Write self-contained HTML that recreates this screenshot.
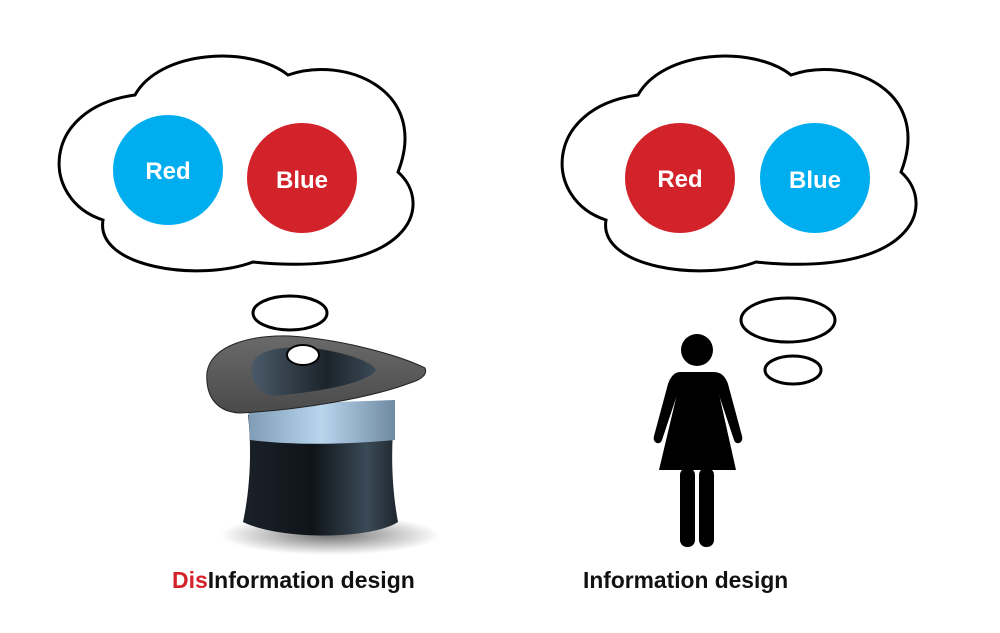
<!DOCTYPE html>
<html><head><meta charset="utf-8"><style>
html,body{margin:0;padding:0;background:#fff;}
svg{display:block}
text{font-family:"Liberation Sans",Arial,sans-serif;font-weight:bold}
</style></head><body>
<svg width="1000" height="633" viewBox="0 0 1000 633" xmlns="http://www.w3.org/2000/svg">
<defs>
<linearGradient id="crown" x1="0" x2="1" y1="0" y2="0">
<stop offset="0" stop-color="#1a2128"/><stop offset="0.45" stop-color="#0f1419"/><stop offset="0.8" stop-color="#3a4a57"/><stop offset="1" stop-color="#1e262d"/></linearGradient>
<linearGradient id="band" x1="0" x2="1"><stop offset="0" stop-color="#7f9cb6"/><stop offset="0.5" stop-color="#b9d6ef"/><stop offset="1" stop-color="#6f8aa2"/></linearGradient>
<linearGradient id="brim" x1="0" y1="0" x2="0" y2="1"><stop offset="0" stop-color="#6a6a6a"/><stop offset="1" stop-color="#4a4a4a"/></linearGradient>
<linearGradient id="inner" x1="0" x2="1"><stop offset="0" stop-color="#4a5a68"/><stop offset="0.6" stop-color="#1c242b"/><stop offset="1" stop-color="#3b4a57"/></linearGradient>
<radialGradient id="shadow" cx="0.5" cy="0.5" r="0.5"><stop offset="0" stop-color="#000" stop-opacity="0.55"/><stop offset="1" stop-color="#000" stop-opacity="0"/></radialGradient>
</defs>
<path fill="#fff" stroke="#000" stroke-width="3" d="M135,95 C160,50 250,45 288,75 C345,55 430,90 398,172 C435,205 410,278 253,262 C200,282 95,268 103,220 C40,200 40,108 135,95 Z"/>
<path transform="translate(503,0)" fill="#fff" stroke="#000" stroke-width="3" d="M135,95 C160,50 250,45 288,75 C345,55 430,90 398,172 C435,205 410,278 253,262 C200,282 95,268 103,220 C40,200 40,108 135,95 Z"/>
<circle cx="168" cy="170" r="55" fill="#00aeef"/>
<circle cx="302" cy="178" r="55" fill="#d2232a"/>
<text x="168" y="179" fill="#fff" font-size="24" text-anchor="middle">Red</text>
<text x="302" y="188" fill="#fff" font-size="24" text-anchor="middle">Blue</text>
<circle cx="680" cy="178" r="55" fill="#d2232a"/>
<circle cx="815" cy="178" r="55" fill="#00aeef"/>
<text x="680" y="187" fill="#fff" font-size="24" text-anchor="middle">Red</text>
<text x="815" y="188" fill="#fff" font-size="24" text-anchor="middle">Blue</text>
<ellipse cx="290" cy="313" rx="37" ry="17" fill="#fff" stroke="#000" stroke-width="3"/>
<ellipse cx="788" cy="320" rx="47" ry="22" fill="#fff" stroke="#000" stroke-width="3"/>
<ellipse cx="793" cy="370" rx="28" ry="14" fill="#fff" stroke="#000" stroke-width="3"/>
<!-- hat -->
<ellipse cx="330" cy="535" rx="110" ry="20" fill="url(#shadow)"/>
<path d="M248,415 C252,450 250,490 243,522 C280,540 370,540 398,522 C392,490 390,450 395,410 Z" fill="url(#crown)"/>
<path d="M248,405 L395,400 L395,440 C340,445 290,445 250,440 Z" fill="url(#band)"/>
<path d="M207,372 C212,345 250,335 290,336 C350,340 405,358 425,368 C428,375 420,380 410,383 C370,398 300,410 240,413 C218,412 205,398 207,372 Z" fill="url(#brim)" stroke="#222" stroke-width="1"/>
<path d="M252,365 C255,348 290,345 320,349 C350,354 372,362 376,370 C368,383 320,392 272,396 C256,391 250,378 252,365 Z" fill="url(#inner)"/>
<ellipse cx="303" cy="355" rx="16" ry="10" fill="#fff" stroke="#000" stroke-width="2"/>
<!-- woman -->
<g fill="#000">
<circle cx="697" cy="350" r="16"/>
<path d="M680,372 L714,372 C722,372 726,378 728,384 L742,436 C744,443 736,446 734,440 L720,398 L719,394 L736,470 L659,470 L677,394 L676,398 L662,440 C660,446 652,443 654,436 L668,384 C670,378 674,372 680,372 Z"/>
<rect x="680" y="468" width="15" height="79" rx="7"/>
<rect x="699" y="468" width="15" height="79" rx="7"/>
</g>
<text x="172" y="588" font-size="23" fill="#d2232a">Dis<tspan fill="#111">Information design</tspan></text>
<text x="583" y="588" font-size="22.8" fill="#111">Information design</text>
</svg>
</body></html>
